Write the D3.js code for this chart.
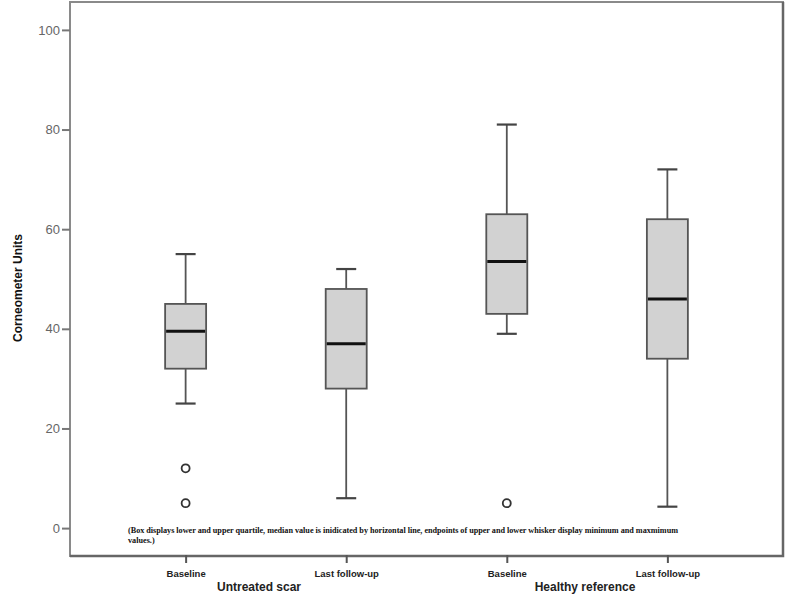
<!DOCTYPE html>
<html>
<head>
<meta charset="utf-8">
<script src="https://cdn.jsdelivr.net/npm/d3@7"></script>
<style>
  body { margin: 0; background: #fff; }
  svg { display: block; }
</style>
</head>
<body>
<script>
// categories and five-number summaries
const categories = ["Baseline", "Last follow-up", "Baseline ", "Last follow-up "];
const groups = ["Untreated scar", "Healthy reference"];
const mins = [25, 6, 39, 4.3];
const q1s = [32, 28, 43, 34];
const medians = [39.5, 37, 53.5, 46];
const q3s = [45, 48, 63, 62];
const maxs = [55, 52, 81, 72];
const outliers = [[12, 5], [], [5], []];
const yTicks = [0, 20, 40, 60, 80, 100];

const width = 790, height = 600;
const margin = {left: 70, right: 7, top: 2, bottom: 44};

const svg = d3.select("body").append("svg")
  .attr("width", width)
  .attr("height", height);

const x = d3.scalePoint()
  .domain(categories)
  .range([margin.left, width - margin.right])
  .padding(0.72);

const y = d3.scaleLinear()
  .domain([-5.6, 105.6])
  .range([height - margin.bottom, margin.top]);

// frame
svg.append("rect")
  .attr("x", margin.left)
  .attr("y", margin.top)
  .attr("width", width - margin.left - margin.right)
  .attr("height", height - margin.top - margin.bottom)
  .attr("fill", "none")
  .attr("stroke", "#8a8a8a")
  .attr("stroke-width", 2);
// darker shadow on right / bottom
svg.append("path")
  .attr("d", `M${width - margin.right},${margin.top} V${height - margin.bottom} H${margin.left}`)
  .attr("fill", "none")
  .attr("stroke", "#666")
  .attr("stroke-width", 2.5);

// y axis
const yAxis = svg.append("g")
  .attr("transform", `translate(${margin.left},0)`)
  .call(d3.axisLeft(y).tickValues(yTicks).tickSize(8).tickPadding(2));
yAxis.select(".domain").remove();
yAxis.selectAll(".tick line").attr("stroke", "#777").attr("stroke-width", 2);
yAxis.selectAll(".tick text")
  .attr("fill", "#666")
  .style("font-family", "Liberation Sans, Arial, sans-serif")
  .style("font-size", "13px");

// x axis
const xAxis = svg.append("g")
  .attr("transform", `translate(0,${height - margin.bottom})`)
  .call(d3.axisBottom(x).tickSize(8).tickPadding(6).tickSizeOuter(0));
xAxis.select(".domain").remove();
xAxis.selectAll(".tick line")
  .attr("y1", -1).attr("y2", 7)
  .attr("stroke", "#555").attr("stroke-width", 2);
xAxis.selectAll(".tick text")
  .attr("fill", "#222")
  .style("font-family", "Liberation Sans, Arial, sans-serif")
  .style("font-weight", "bold")
  .style("font-size", "9.5px");

// group labels
svg.selectAll(".group")
  .data(groups)
  .enter().append("text")
  .attr("class", "group")
  .attr("x", (d, i) => i === 0 ? 259 : 585)
  .attr("y", 591)
  .attr("text-anchor", "middle")
  .attr("fill", "#222")
  .style("font-family", "Liberation Sans, Arial, sans-serif")
  .style("font-weight", "bold")
  .style("font-size", "12px")
  .text(d => d);

// y title
svg.append("text")
  .attr("transform", `translate(22,${288}) rotate(-90)`)
  .attr("text-anchor", "middle")
  .attr("fill", "#111")
  .style("font-family", "Liberation Sans, Arial, sans-serif")
  .style("font-weight", "bold")
  .style("font-size", "12px")
  .text("Corneometer Units");

// boxes
const boxW = 41, capW = 20;
const box = svg.selectAll(".box")
  .data(categories)
  .enter().append("g")
  .attr("class", "box")
  .attr("transform", d => `translate(${x(d)},0)`);

box.append("line")
  .attr("y1", (d, i) => y(maxs[i]))
  .attr("y2", (d, i) => y(q3s[i]))
  .attr("stroke", "#555").attr("stroke-width", 1.8);
box.append("line")
  .attr("y1", (d, i) => y(q1s[i]))
  .attr("y2", (d, i) => y(mins[i]))
  .attr("stroke", "#555").attr("stroke-width", 1.8);
box.append("line")
  .attr("x1", -capW / 2).attr("x2", capW / 2)
  .attr("y1", (d, i) => y(maxs[i])).attr("y2", (d, i) => y(maxs[i]))
  .attr("stroke", "#444").attr("stroke-width", 2.2);
box.append("line")
  .attr("x1", -capW / 2).attr("x2", capW / 2)
  .attr("y1", (d, i) => y(mins[i])).attr("y2", (d, i) => y(mins[i]))
  .attr("stroke", "#444").attr("stroke-width", 2.2);
box.append("rect")
  .attr("x", -boxW / 2)
  .attr("width", boxW)
  .attr("y", (d, i) => y(q3s[i]))
  .attr("height", (d, i) => y(q1s[i]) - y(q3s[i]))
  .attr("fill", "#d2d2d2")
  .attr("stroke", "#555")
  .attr("stroke-width", 1.8);
box.append("line")
  .attr("x1", -boxW / 2 + 1).attr("x2", boxW / 2 - 1)
  .attr("y1", (d, i) => y(medians[i])).attr("y2", (d, i) => y(medians[i]))
  .attr("stroke", "#111").attr("stroke-width", 3);

box.selectAll("circle")
  .data((d, i) => outliers[i])
  .enter().append("circle")
  .attr("r", 4)
  .attr("cy", d => y(d))
  .attr("fill", "#fff")
  .attr("stroke", "#333")
  .attr("stroke-width", 1.8);

// footnote
const note = svg.append("text")
  .attr("fill", "#111")
  .style("font-family", "Liberation Serif, Times New Roman, serif")
  .style("font-weight", "bold")
  .style("font-size", "8.2px");
note.append("tspan").attr("x", 128).attr("y", 533)
  .attr("textLength", 550)
  .attr("lengthAdjust", "spacing")
  .text("(Box displays lower and upper quartile, median value is inidicated by horizontal line, endpoints of upper and lower whisker display minimum and maxmimum");
note.append("tspan").attr("x", 128).attr("y", 543)
  .text("values.)");
</script>
</body>
</html>
